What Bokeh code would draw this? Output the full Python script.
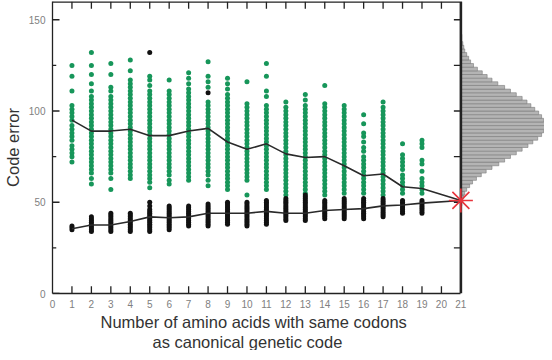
from bokeh.plotting import figure
from bokeh.models import FixedTicker, Range1d, Title
from bokeh.embed import file_html
from bokeh.resources import INLINE
import math

# ---------------- data ----------------
x_tick_values = [0, 1, 2, 3, 4, 5, 6, 7, 8, 9, 10, 11, 12, 13, 14, 15, 16, 17, 18, 19, 20, 21]
x_inner_ticks = [1, 2, 3, 4, 5, 6, 7, 8, 9, 10, 11, 12, 13, 14, 15, 16, 17, 18, 19, 20]
y_major_ticks = [0, 50, 100, 150]
y_minor_ticks = [25, 75, 125]
right_ticks = [25, 50, 75, 100, 125, 150]
x_min, x_max = 0, 21
y_min, y_max = 0, 160

columns = [1, 2, 3, 4, 5, 6, 7, 8, 9, 10, 11, 12, 13, 14, 15, 16, 17, 18, 19]

green_cols = [
    [125, 119, 111, 103, 101, 99, 97, 95, 92, 90, 88, 86, 84, 81, 79, 77, 75, 72],
    [132, 125, 120, 115, 111, 108, 106, 104, 102, 100, 98, 96, 94, 92, 90, 88, 86, 84, 82, 80, 78, 76, 74, 72, 70, 68, 66, 63, 60],
    [126, 120, 113, 111, 108, 106, 104, 102, 100, 98, 96, 94, 92, 90, 88, 86, 84, 82, 80, 78, 76, 74, 72, 70, 68, 66, 63, 57],
    [128, 122, 117, 115, 113, 111, 109, 107, 105, 103, 101, 99, 97, 95, 93, 91, 89, 87, 85, 83, 81, 79, 77, 75, 73, 71, 69, 67, 65, 63],
    [119, 117, 114, 111, 109, 107, 105, 103, 101, 99, 97, 95, 93, 91, 89, 87, 85, 83, 81, 79, 77, 75, 73, 71, 69, 67, 65, 63, 61, 58],
    [117, 111, 109, 107, 105, 103, 101, 99, 97, 95, 93, 91, 89, 87, 85, 83, 81, 79, 77, 75, 73, 71, 69, 67, 65, 62, 60],
    [121, 118, 115, 112, 110, 108, 106, 104, 102, 100, 98, 96, 94, 92, 90, 88, 86, 84, 82, 80, 78, 76, 74, 72, 70, 68, 66, 64, 62],
    [127, 119, 116, 113, 105, 103, 101, 99, 97, 95, 93, 91, 89, 87, 85, 83, 81, 79, 77, 75, 73, 71, 69, 67, 65, 62, 59],
    [118, 115, 112, 109, 107, 105, 103, 101, 99, 97, 95, 93, 91, 89, 87, 85, 83, 81, 79, 77, 75, 73, 71, 69, 67, 65, 63, 61, 59, 57],
    [116, 104, 102, 100, 98, 96, 94, 92, 90, 88, 86, 84, 82, 80, 78, 76, 74, 72, 70, 68, 66, 64, 62, 54],
    [126, 119, 111, 108, 103, 101, 99, 97, 95, 93, 91, 89, 87, 85, 83, 81, 79, 77, 75, 73, 71, 69, 67, 65, 63, 61, 59, 57],
    [105, 102, 100, 98, 96, 94, 92, 90, 88, 86, 84, 82, 80, 78, 76, 74, 72, 70, 68, 66, 64, 62, 60, 58, 56, 54],
    [109, 106, 103, 101, 99, 97, 95, 93, 91, 89, 87, 85, 83, 81, 79, 77, 75, 73, 71, 69, 67, 65, 63, 61, 59, 57, 55],
    [114, 104, 102, 100, 98, 96, 94, 92, 90, 88, 86, 84, 82, 80, 78, 76, 74, 72, 70, 68, 66, 64, 62, 60, 58, 56, 54],
    [103, 101, 99, 97, 95, 93, 91, 89, 87, 85, 83, 81, 79, 77, 75, 73, 71, 69, 67, 65, 63, 61, 59, 57, 55],
    [98, 93, 88, 86, 83, 80, 78, 75, 73, 71, 69, 67, 65, 63, 61, 59, 57, 55],
    [105, 102, 100, 98, 96, 94, 92, 90, 88, 86, 84, 82, 80, 78, 76, 74, 72, 70, 68, 66, 64, 62, 60, 58, 56, 54],
    [82, 76, 74, 72, 70, 68, 65, 63, 61, 59, 57, 55],
    [84, 82, 80, 73, 71, 67, 63, 61, 59, 57, 55],
]

black_cols = [
    [35, 36, 37],
    [34, 35, 36, 37, 38, 39, 40, 41, 42],
    [34, 35, 36, 37, 38, 39, 40, 41, 42, 43, 44],
    [34, 35, 36, 37, 38, 39, 40, 41, 42, 43, 44],
    [34, 35, 36, 37, 38, 39, 40, 41, 42, 43, 44, 45, 46, 48, 50, 132],
    [35, 36, 37, 38, 39, 40, 41, 42, 43, 44, 45, 46, 47, 48],
    [37, 38, 39, 40, 41, 42, 43, 44, 45, 46, 47, 48],
    [37, 38, 39, 40, 41, 42, 43, 44, 45, 46, 47, 48, 49, 110],
    [38, 39, 40, 41, 42, 43, 44, 45, 46, 47, 48, 49, 50],
    [37, 38, 39, 40, 41, 42, 43, 44, 45, 46, 47, 48, 49, 50],
    [38, 39, 40, 41, 42, 43, 44, 45, 46, 47, 48, 49, 50, 51],
    [40, 41, 42, 43, 44, 45, 46, 47, 48, 49, 50, 51, 52],
    [40, 41, 42, 43, 44, 45, 46, 47, 48, 49, 50, 51, 52, 53, 54],
    [41, 42, 43, 44, 45, 46, 47, 48, 49, 50, 51],
    [41, 42, 43, 44, 45, 46, 47, 48, 49, 50, 51, 52],
    [41, 42, 43, 44, 45, 46, 47, 48, 49, 50, 51, 52],
    [42, 43, 44, 45, 46, 47, 48, 49, 50, 51, 52],
    [44, 45, 46, 47, 48, 49, 50, 51],
    [44, 45, 46, 47, 48, 49, 50, 51],
]

mean_x = [1, 2, 3, 4, 5, 6, 7, 8, 9, 10, 11, 12, 13, 14, 15, 16, 17, 18, 19, 21]
green_mean = [95, 89, 89, 90, 86.5, 86.5, 89, 90.5, 83, 79, 82, 76.5, 74.5, 75, 70, 64.5, 65.5, 58.5, 57.5, 51]
black_mean = [35.5, 37.5, 37.5, 39.5, 42, 41.5, 42, 44, 44, 44, 45, 44, 44, 45.5, 46, 46.5, 48, 48.5, 49.5, 51]

canonical_x = [21]
canonical_y = [51]

hist_centers = [49, 51, 53, 55, 57, 59, 61, 63, 65, 67, 69, 71, 73, 75, 77, 79, 81, 83, 85, 87, 89, 91,
                93, 95, 97, 99, 101, 103, 105, 107, 109, 111, 113, 115, 117, 119, 121, 123, 125, 127,
                129, 131, 133, 135, 137, 139, 141]
hist_counts = [1, 2, 3, 4, 6, 9, 12, 16, 21, 26, 32, 39, 45, 51, 57, 63, 69, 74, 79, 83, 85, 86,
               86, 85, 83, 80, 76, 72, 68, 63, 57, 51, 45, 38, 32, 27, 22, 17, 13, 10,
               8, 6, 4, 3, 2, 1, 1]

x_label_1 = "Number of amino acids with same codons"
x_label_2 = "as canonical genetic code"
y_label = "Code error"

# ---------------- flatten ----------------
gx, gy = [], []
for c, vals in zip(columns, green_cols):
    gx += [c] * len(vals)
    gy += vals
bx, by = [], []
for c, vals in zip(columns, black_cols):
    bx += [c] * len(vals)
    by += vals

FONT = "Liberation Sans"
AXC = "#222222"
HX = 0.18     # half tick length, x units (~3.5 px)
HY = 2.0      # half tick length, y units (~3.5 px)
HIST_SCALE = 4.3 / 86   # histogram count -> x units, peak reaches right edge

hist_left = [x_max] * len(hist_counts)
hist_right = [x_max + c * HIST_SCALE for c in hist_counts]

p = figure(width=544, height=350, x_range=Range1d(0, 25.3), y_range=Range1d(y_min, y_max),
           output_backend="svg", toolbar_location=None,
           min_border_left=45, min_border_right=0, min_border_top=1, min_border_bottom=0,
           y_axis_label=y_label)
p.grid.visible = False
p.outline_line_color = None

xa = p.xaxis[0]
xa.ticker = FixedTicker(ticks=x_tick_values)
xa.bounds = (x_min, x_max)
xa.major_tick_in = 0
xa.major_tick_out = 0
xa.minor_tick_in = 0
xa.minor_tick_out = 0
xa.axis_line_color = AXC
xa.axis_line_width = 1.3
xa.major_label_text_font = FONT
xa.major_label_text_font_size = "10px"
xa.major_label_text_color = "#808080"
xa.major_label_standoff = 6

ya = p.yaxis[0]
ya.ticker = FixedTicker(ticks=y_major_ticks, minor_ticks=y_minor_ticks)
ya.major_tick_in = 0
ya.major_tick_out = 0
ya.minor_tick_in = 0
ya.minor_tick_out = 0
ya.axis_line_color = AXC
ya.axis_line_width = 1.3
ya.major_label_text_font = FONT
ya.major_label_text_font_size = "10px"
ya.major_label_text_color = "#808080"
ya.major_label_standoff = 7
ya.axis_label_text_font = FONT
ya.axis_label_text_font_size = "16.5px"
ya.axis_label_text_font_style = "normal"
ya.axis_label_text_color = "#333333"
ya.axis_label_standoff = 4

for txt, off, sd in [(x_label_1, 48, 0), (x_label_2, 100, 0)]:
    p.add_layout(Title(text=txt, align="left", offset=off, standoff=sd,
                       text_font=FONT, text_font_size="16.5px", text_font_style="normal",
                       text_color="#333333"), "below")

# histogram of random codes
p.hbar(y=hist_centers, left=hist_left, right=hist_right, height=2,
       fill_color="#b4b4b4", line_color="#7a7a7a", line_width=0.6)

# points
GREEN = "#17965a"
p.scatter(gx, gy, size=5, fill_color=GREEN, line_color=None)
p.scatter(bx, by, size=5, fill_color="#111111", line_color=None)

# mean lines
p.line(mean_x, green_mean, line_color="#2a2a2a", line_width=1.6)
p.line(mean_x, black_mean, line_color="#2a2a2a", line_width=1.6)

# frame of the main panel (top and right edges)
p.line([x_min, x_max, x_max], [y_max, y_max, y_min], line_color=AXC, line_width=2.6)

# inward ticks
n = len(x_inner_ticks)
p.scatter(x_inner_ticks, [y_min + HY] * n, marker="dash", angle=math.pi / 2, size=7,
          line_color=AXC, line_width=1.3)
p.scatter(x_inner_ticks, [y_max - HY] * n, marker="dash", angle=math.pi / 2, size=7,
          line_color=AXC, line_width=1.3)
p.scatter([x_min + HX] * len(y_major_ticks), y_major_ticks, marker="dash", size=7,
          line_color=AXC, line_width=1.3)
p.scatter([x_min + HX / 2] * len(y_minor_ticks), y_minor_ticks, marker="dash", size=4,
          line_color=AXC, line_width=1.3)
p.scatter([x_max - HX] * len(right_ticks), right_ticks, marker="dash", size=7,
          line_color=AXC, line_width=1.3)

# canonical code
p.scatter(canonical_x, canonical_y, marker="asterisk", size=24,
          line_color="#e8343c", line_width=1.6)

open("out.html", "w").write(file_html(p, INLINE))
